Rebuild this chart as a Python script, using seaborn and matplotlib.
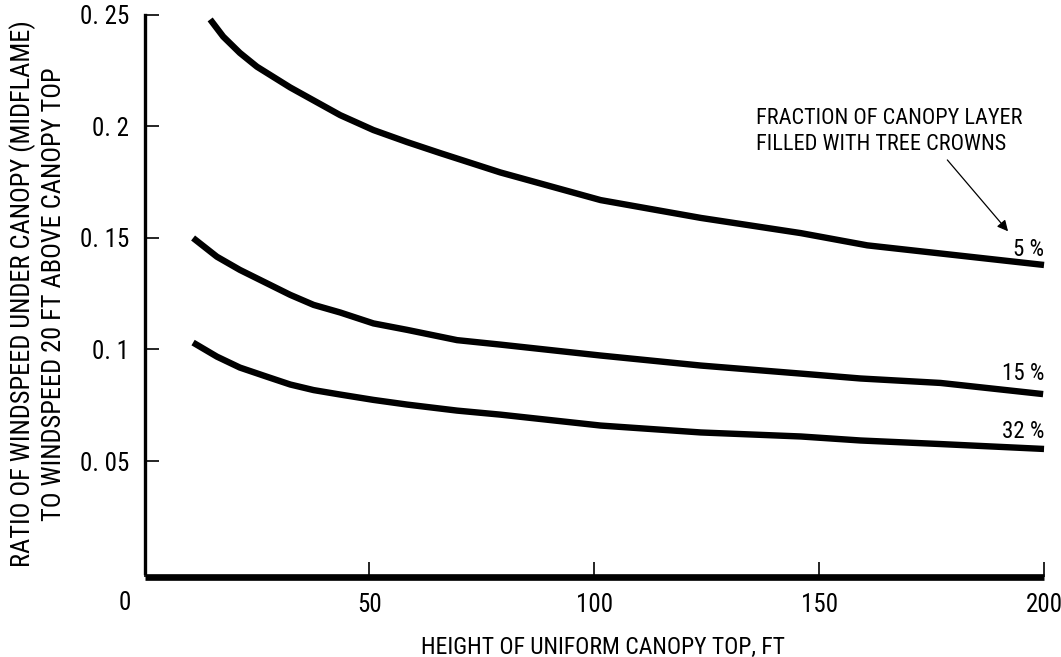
import pandas as pd
import matplotlib.pyplot as plt
import seaborn as sns

# canopy height (ft) and midflame wind ratio
height_5 = [14.6, 17.5, 21.2, 25.0, 32.4, 43.5, 50.9, 58.4, 65.7, 79.1, 101.4, 123.7, 145.9, 160.7, 200.0]
ratio_5 = [0.248, 0.2403, 0.233, 0.2268, 0.2175, 0.2051, 0.1984, 0.1930, 0.1881, 0.1794, 0.1670, 0.1590, 0.1522, 0.1467, 0.1379]

height_15 = [10.8, 16.1, 21.2, 27.2, 32.4, 37.6, 43.5, 50.9, 58.4, 69.5, 79.1, 101.4, 123.7, 145.9, 159.2, 177.0, 199.8]
ratio_15 = [0.150, 0.1416, 0.1357, 0.1297, 0.1245, 0.1200, 0.1166, 0.1117, 0.1088, 0.1042, 0.1022, 0.0973, 0.0928, 0.0892, 0.0870, 0.0850, 0.0800]

height_32 = [10.8, 16.1, 21.2, 27.2, 32.4, 37.6, 43.5, 50.9, 58.4, 69.5, 79.1, 101.4, 123.7, 145.9, 159.2, 177.0, 200.0]
ratio_32 = [0.1031, 0.0968, 0.0919, 0.0878, 0.0843, 0.0818, 0.0798, 0.0774, 0.0753, 0.0726, 0.0708, 0.0659, 0.0628, 0.0610, 0.0592, 0.0576, 0.0554]

series_labels = ["5 %", "15 %", "32 %"]

x_ticks = [0, 50, 100, 150, 200]
x_tick_labels = ["", "50", "100", "150", "200"]
y_ticks = [0.05, 0.1, 0.15, 0.2, 0.25]
y_tick_labels = ["0. 05", "0. 1", "0. 15", "0. 2", "0. 25"]

sns.set_style("ticks")
plt.rcParams["font.family"] = ["Roboto Condensed", "Roboto", "DejaVu Sans"]
plt.rcParams["font.size"] = 16
for key in ["text.color", "axes.labelcolor", "xtick.color", "ytick.color", "axes.edgecolor"]:
    plt.rcParams[key] = "black"

df = pd.concat([
    pd.DataFrame({"height": height_5, "ratio": ratio_5, "fraction": series_labels[0]}),
    pd.DataFrame({"height": height_15, "ratio": ratio_15, "fraction": series_labels[1]}),
    pd.DataFrame({"height": height_32, "ratio": ratio_32, "fraction": series_labels[2]}),
])

fig = plt.figure(figsize=(10.61, 6.57), dpi=100)
ax = fig.add_axes([0.1362, 0.1286, 0.8478, 0.8486])

for frac, grp in df.groupby("fraction", sort=False):
    sns.lineplot(data=grp, x="height", y="ratio", ax=ax, color="black",
                 linewidth=4.6, solid_capstyle="butt", solid_joinstyle="round",
                 estimator=None, sort=True, legend=False)
for line in ax.lines:
    line.set_clip_on(False)

ax.set_xlim(0, 200)
ax.set_ylim(0, 0.25)

ax.set_xticks(x_ticks)
ax.set_xticklabels(x_tick_labels)
ax.set_yticks(y_ticks)
ax.set_yticklabels(y_tick_labels)

ax.tick_params(axis="x", direction="in", length=11, width=1.2, pad=12, labelsize=18)
ax.tick_params(axis="y", direction="in", length=10, width=1.2, pad=11, labelsize=18)

# the shared origin label sits left of the corner
ax.annotate("0", xy=(0, 0), xycoords="data", xytext=(-14.5, -22),
            textcoords="offset points", ha="center", va="center", fontsize=18,
            annotation_clip=False)

sns.despine(ax=ax)
ax.spines["left"].set_linewidth(2.4)
ax.spines["bottom"].set_linewidth(4.8)
ax.spines["bottom"].set_position(("outward", 3))
ax.spines["bottom"].set_capstyle("butt")

ax.set_xlabel("HEIGHT OF UNIFORM CANOPY TOP, FT", fontsize=17)
ax.xaxis.set_label_coords(0.51, -0.113)
ax.set_ylabel("RATIO OF WINDSPEED UNDER CANOPY (MIDFLAME)\nTO WINDSPEED 20 FT ABOVE CANOPY TOP",
              fontsize=19, labelpad=10, linespacing=1.3)

# curve labels at right ends
label_y = {"5 %": 0.1449, "15 %": 0.0893, "32 %": 0.0634}
for lab in series_labels:
    ax.text(200, label_y[lab], lab, ha="right", va="center", fontsize=16.5)

ax.annotate("", xy=(192, 0.1530), xytext=(178.5, 0.1850),
            arrowprops=dict(arrowstyle="-|>", color="black", lw=0.9,
                            mutation_scale=16, shrinkA=0, shrinkB=0))
ax.text(136, 0.1978, "FRACTION OF CANOPY LAYER\nFILLED WITH TREE CROWNS",
        ha="left", va="center", fontsize=16, linespacing=1.35)

plt.savefig("out.png", dpi=100)
plt.close()
